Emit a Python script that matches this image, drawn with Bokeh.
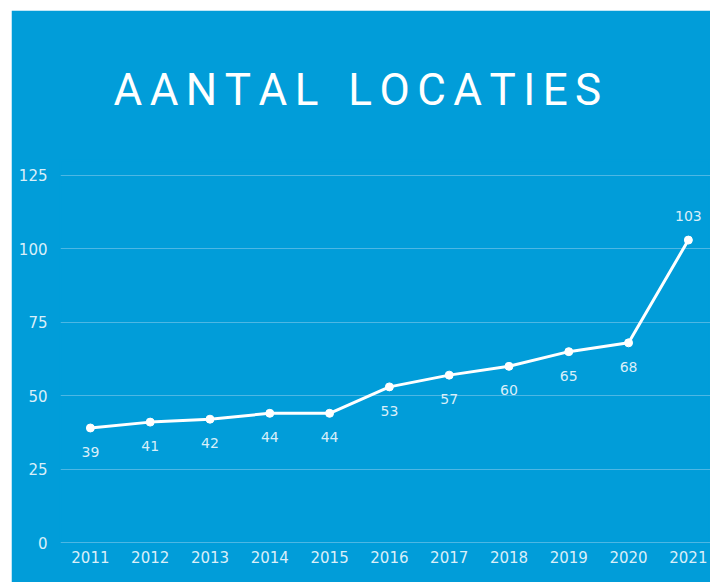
from bokeh.plotting import figure
from bokeh.models import ColumnDataSource, FixedTicker, Range1d
from bokeh.embed import file_html
from bokeh.resources import INLINE
from bokeh.core.properties import value

# ---- data ----
years = [2011, 2012, 2013, 2014, 2015, 2016, 2017, 2018, 2019, 2020, 2021]
locaties = [39, 41, 42, 44, 44, 53, 57, 60, 65, 68, 103]
y_ticks = [0, 25, 50, 75, 100, 125]
title_text = "AANTAL LOCATIES"

# ---- style ----
BG = "#019dd9"
GRID = "#4db7e4"
TXT = "#d9eff9"
WHITE = "#ffffff"

LS = "\u2006"           # letter spacing
WS = "\u2006\u2002"     # word spacing
spaced_title = WS.join(LS.join(w) for w in title_text.split(" "))

p = figure(
    width=699, height=572,
    output_backend="svg", toolbar_location=None,
    x_range=Range1d(2010.5, 2021.37),
    y_range=Range1d(-1.02, 130.1),
    min_border_left=49, min_border_right=0,
    min_border_bottom=37, min_border_top=150,
)
p.margin = (10, 0, 0, 11)

p.title.text = spaced_title
p.title.text_font = "Roboto"
p.title.text_font_style = "normal"
p.title.text_font_size = "44px"
p.title.text_color = WHITE
p.title.align = "left"
p.title.offset = 53
p.title.standoff = 90

p.background_fill_color = BG
p.border_fill_color = BG
p.outline_line_color = BG
p.outline_line_width = 2

p.xgrid.grid_line_color = None
p.ygrid.grid_line_color = GRID
p.ygrid.grid_line_width = 1
p.ygrid.ticker = FixedTicker(ticks=y_ticks)

for ax in (p.xaxis[0], p.yaxis[0]):
    ax.axis_line_color = None
    ax.major_tick_line_color = None
    ax.minor_tick_line_color = None
    ax.major_tick_out = 0
    ax.major_tick_in = 0
    ax.major_label_text_font = "DejaVu Sans"
    ax.major_label_text_font_size = "15px"
    ax.major_label_text_color = TXT

p.xaxis.ticker = FixedTicker(ticks=years)
p.xaxis.major_label_standoff = 5
p.yaxis.ticker = FixedTicker(ticks=y_ticks)
p.yaxis.major_label_standoff = 13

peak = max(locaties)
src = ColumnDataSource(dict(
    year=years,
    val=locaties,
    label=[str(v) for v in locaties],
    off=[-24 if v == peak else 24 for v in locaties],
))

p.line("year", "val", source=src, line_color=WHITE, line_width=3)
p.scatter("year", "val", source=src, size=8, fill_color=WHITE, line_color=WHITE)
p.text("year", "val", text="label", source=src, y_offset="off",
       text_align="center", text_baseline="middle",
       text_font=value("DejaVu Sans"), text_font_size="14px", text_color=TXT)

open("out.html", "w").write(file_html(p, INLINE))
